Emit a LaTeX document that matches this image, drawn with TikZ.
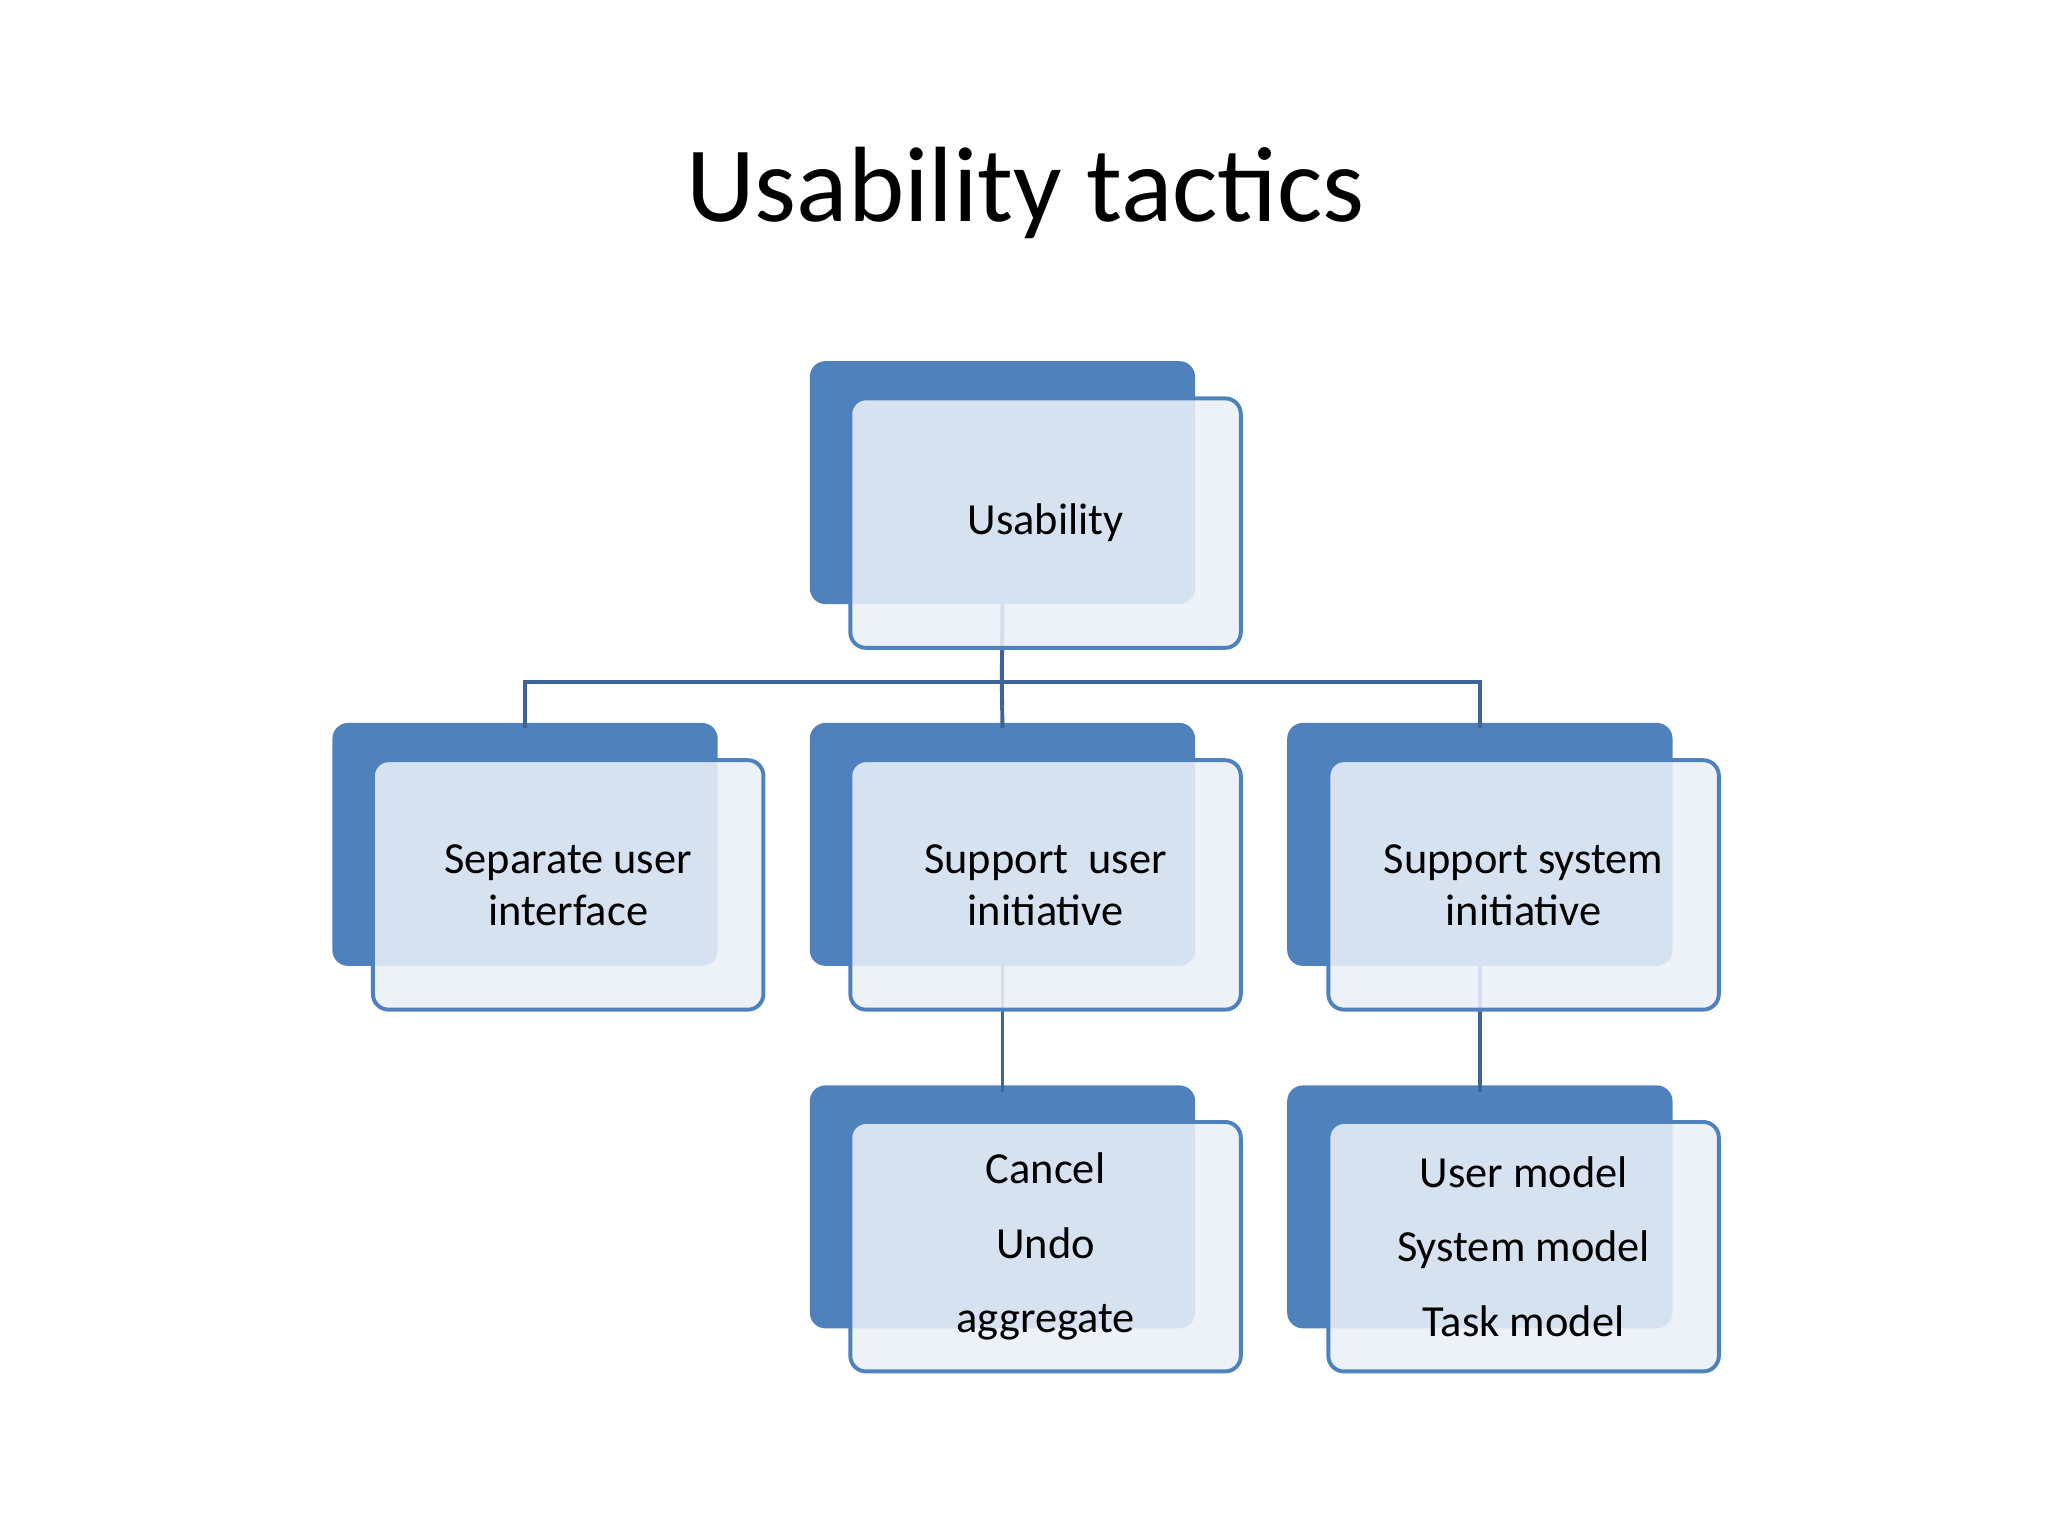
\documentclass[tikz,border=0pt]{standalone}
\usepackage{fontspec}
\setmainfont{Carlito}
\begin{document}
\begin{tikzpicture}[x=1pt,y=-1pt,
  back/.style={draw=none,fill=blue1,rounded corners=12pt,minimum width=295pt,minimum height=186pt,inner sep=0pt},
  front/.style={draw=blue1,line width=3pt,fill=light,fill opacity=0.88,text opacity=1,rounded corners=12pt,minimum width=299pt,minimum height=191pt,inner sep=0pt,align=center,font=\fontsize{34}{40}\selectfont,text=black},
  conn/.style={draw=lineblue,line width=3pt}]
\definecolor{blue1}{HTML}{4F81BD}
\definecolor{light}{HTML}{EAF0F8}
\definecolor{lineblue}{HTML}{3F6497}
\useasboundingbox (0,0) rectangle (1568,1176);
\node[font=\fontsize{82}{90}\selectfont] (title) at (785,148) {Usability tactics};
% back boxes
\node[back] (ub) at (767.5,369.5) {};
\node[back] (sb) at (402,646.5) {};
\node[back] (mb) at (767.5,646.5) {};
\node[back] (rb) at (1133,646.5) {};
\node[back] (cb) at (767.5,924) {};
\node[back] (tb) at (1133,924) {};
% connectors
\draw[conn] (ub.south) -- (767,522) coordinate (h);
\draw[conn] (h) -| ([yshift=-4pt]sb.north);
\draw[conn] (h) -| ([yshift=-4pt]rb.north);
\draw[conn] (h) -- ([yshift=-4pt]mb.north);
\draw[conn] (mb.south) -- ([yshift=-5pt]cb.north);
\draw[conn] (rb.south) -- ([yshift=-5pt]tb.north);
% front boxes
\node[front] (u) at (800.5,400.5) {Usability};
\node[front] (s) at (435,677.5) {Separate user\\interface};
\node[front] (m) at (800.5,677.5) {Support~ user\\initiative};
\node[front] (r) at (1166.5,677.5) {Support system\\initiative};
\node[front,font=\fontsize{34}{57}\selectfont] (c) at (800.5,954.5) {Cancel\\Undo\\aggregate};
\node[front,font=\fontsize{34}{57}\selectfont] (t) at (1166.5,954.5) {User model\\System model\\Task model};
\end{tikzpicture}
\end{document}
